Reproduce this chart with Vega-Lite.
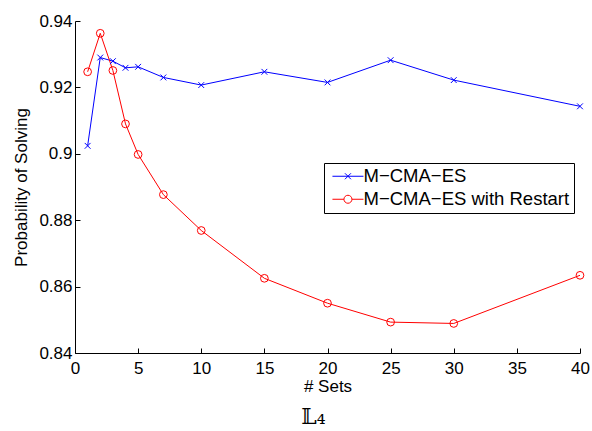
{
  "$schema": "https://vega.github.io/schema/vega-lite/v6.json",
  "autosize": "none",
  "width": 505,
  "height": 332,
  "padding": {"left": 75, "top": 21, "right": 12, "bottom": 78},
  "background": "white",
  "config": {
    "view": {"stroke": null},
    "font": "Liberation Sans",
    "axis": {
      "domainColor": "black",
      "tickColor": "black",
      "labelColor": "black",
      "titleColor": "black",
      "labelFont": "Liberation Sans",
      "titleFont": "Liberation Sans",
      "labelFontSize": 17,
      "titleFontSize": 17,
      "titleFontWeight": "normal",
      "grid": false,
      "tickSize": -5,
      "domainWidth": 1,
      "tickWidth": 1
    }
  },
  "title": {
    "text": "𝕃₄",
    "orient": "bottom",
    "anchor": "middle",
    "font": "DejaVu Serif",
    "fontSize": 22,
    "fontWeight": "normal",
    "color": "black",
    "offset": 13,
    "dx": -14
  },
  "data": {
    "values": [
      {"sets": 1, "series": "M−CMA−ES", "p": 0.9024},
      {"sets": 2, "series": "M−CMA−ES", "p": 0.9290},
      {"sets": 3, "series": "M−CMA−ES", "p": 0.9279},
      {"sets": 4, "series": "M−CMA−ES", "p": 0.9259},
      {"sets": 5, "series": "M−CMA−ES", "p": 0.9262},
      {"sets": 7, "series": "M−CMA−ES", "p": 0.9230},
      {"sets": 10, "series": "M−CMA−ES", "p": 0.9207},
      {"sets": 15, "series": "M−CMA−ES", "p": 0.9247},
      {"sets": 20, "series": "M−CMA−ES", "p": 0.9215},
      {"sets": 25, "series": "M−CMA−ES", "p": 0.9282},
      {"sets": 30, "series": "M−CMA−ES", "p": 0.9222},
      {"sets": 40, "series": "M−CMA−ES", "p": 0.9143},
      {"sets": 1, "series": "M−CMA−ES with Restart", "p": 0.9247},
      {"sets": 2, "series": "M−CMA−ES with Restart", "p": 0.9363},
      {"sets": 3, "series": "M−CMA−ES with Restart", "p": 0.9251},
      {"sets": 4, "series": "M−CMA−ES with Restart", "p": 0.9090},
      {"sets": 5, "series": "M−CMA−ES with Restart", "p": 0.8998},
      {"sets": 7, "series": "M−CMA−ES with Restart", "p": 0.8877},
      {"sets": 10, "series": "M−CMA−ES with Restart", "p": 0.8769},
      {"sets": 15, "series": "M−CMA−ES with Restart", "p": 0.8625},
      {"sets": 20, "series": "M−CMA−ES with Restart", "p": 0.8550},
      {"sets": 25, "series": "M−CMA−ES with Restart", "p": 0.8493},
      {"sets": 30, "series": "M−CMA−ES with Restart", "p": 0.8489},
      {"sets": 40, "series": "M−CMA−ES with Restart", "p": 0.8634}
    ]
  },
  "encoding": {
    "x": {
      "field": "sets",
      "type": "quantitative",
      "scale": {"domain": [0, 40], "nice": false, "zero": false},
      "axis": {
        "title": "# Sets",
        "values": [0, 5, 10, 15, 20, 25, 30, 35, 40],
        "format": "d",
        "labelPadding": 12,
        "titlePadding": 2,
        "labelFlush": false
      }
    },
    "y": {
      "field": "p",
      "type": "quantitative",
      "scale": {"domain": [0.84, 0.94], "nice": false, "zero": false},
      "axis": {
        "title": "Probability of Solving",
        "values": [0.84, 0.86, 0.88, 0.9, 0.92, 0.94],
        "format": ".2~f",
        "labelPadding": 8,
        "titlePadding": 8,
        "labelFlush": false
      }
    },
    "color": {
      "field": "series",
      "type": "nominal",
      "scale": {"domain": ["M−CMA−ES", "M−CMA−ES with Restart"], "range": ["#0000ff", "#ff0000"]},
      "legend": {
        "title": null,
        "orient": "none",
        "legendX": 249,
        "legendY": 142,
        "direction": "vertical",
        "fillColor": "white",
        "strokeColor": "black",
        "padding": 4,
        "labelFont": "Liberation Sans",
        "labelFontSize": 18.5,
        "labelColor": "black",
        "labelOffset": 17,
        "symbolSize": 100,
        "symbolStrokeWidth": 1,
        "rowPadding": 4,
        "labelLimit": 400,
        "encode": {
          "symbols": {
            "update": {
              "shape": {"signal": "datum.value === 'M−CMA−ES' ? 'M-0.96,0L5.24,0M1.54,-0.6L2.74,0.6M1.54,0.6L2.74,-0.6' : 'M-0.96,0L1.34,0M2.94,0L5.24,0M1.34,0A0.8,0.8 0 1,0 2.94,0A0.8,0.8 0 1,0 1.34,0'"},
              "fill": {"value": "transparent"}
            }
          }
        }
      }
    }
  },
  "layer": [
    {
      "mark": {"type": "line", "strokeWidth": 1}
    },
    {
      "transform": [{"filter": "datum.series === 'M−CMA−ES'"}],
      "mark": {"type": "point", "filled": false, "strokeWidth": 1, "opacity": 1, "size": 60, "shape": "M-0.75,-0.75L0.75,0.75M-0.75,0.75L0.75,-0.75"}
    },
    {
      "transform": [{"filter": "datum.series !== 'M−CMA−ES'"}],
      "mark": {"type": "point", "filled": false, "strokeWidth": 1, "opacity": 1, "size": 60, "shape": "circle"}
    }
  ]
}
